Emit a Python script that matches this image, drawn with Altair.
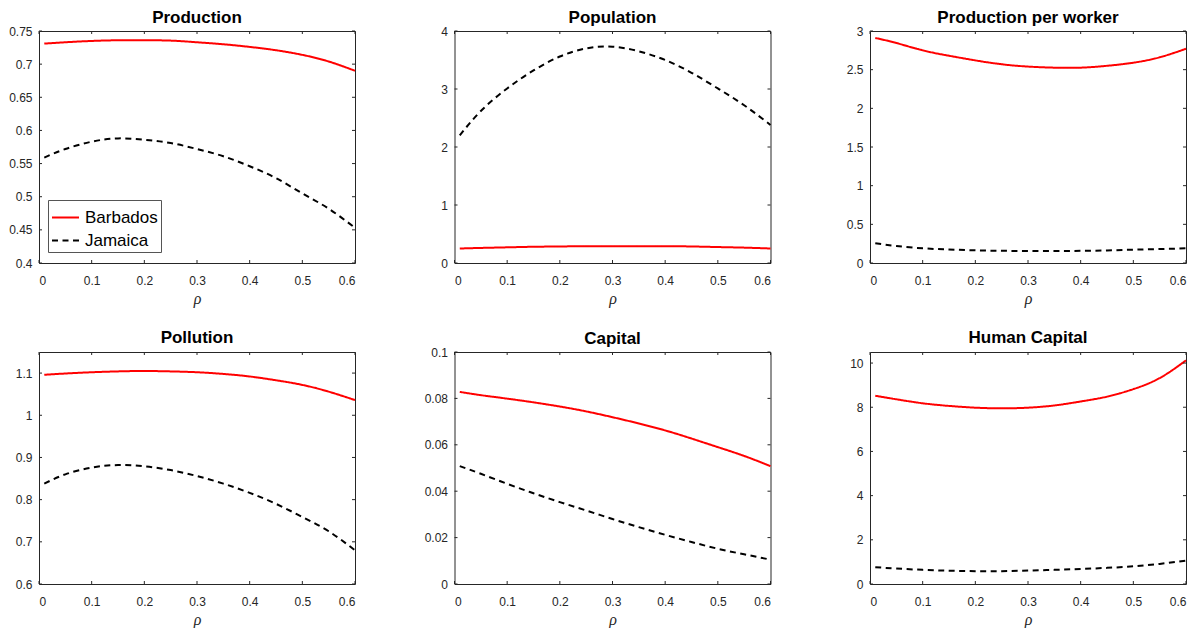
import altair as alt
import pandas as pd

# ---------------- data ----------------
rho = [0.01, 0.05, 0.10, 0.15, 0.20, 0.25, 0.30, 0.35, 0.40, 0.45, 0.50, 0.55, 0.60]
countries = ["Barbados", "Jamaica"]
x_ticks = [0, 0.1, 0.2, 0.3, 0.4, 0.5, 0.6]

production_barbados = [0.731, 0.733, 0.735, 0.736, 0.736, 0.7355, 0.733, 0.730, 0.726, 0.721, 0.714, 0.704, 0.690]
production_jamaica = [0.559, 0.572, 0.583, 0.588, 0.586, 0.581, 0.572, 0.561, 0.546, 0.528, 0.505, 0.482, 0.453]

population_barbados = [0.25, 0.26, 0.27, 0.28, 0.285, 0.29, 0.29, 0.29, 0.29, 0.285, 0.275, 0.265, 0.25]
population_jamaica = [2.20, 2.62, 3.01, 3.32, 3.56, 3.70, 3.73, 3.65, 3.50, 3.28, 3.01, 2.72, 2.38]

ppw_barbados = [2.91, 2.845, 2.75, 2.68, 2.62, 2.57, 2.54, 2.526, 2.526, 2.55, 2.59, 2.66, 2.77]
ppw_jamaica = [0.255, 0.22, 0.19, 0.175, 0.164, 0.158, 0.155, 0.155, 0.157, 0.163, 0.172, 0.18, 0.19]

pollution_barbados = [1.096, 1.099, 1.102, 1.104, 1.105, 1.104, 1.102, 1.098, 1.092, 1.083, 1.072, 1.056, 1.036]
pollution_jamaica = [0.838, 0.860, 0.876, 0.882, 0.879, 0.870, 0.856, 0.838, 0.816, 0.790, 0.759, 0.725, 0.680]

capital_barbados = [0.0828, 0.0814, 0.0799, 0.0783, 0.0765, 0.0744, 0.0719, 0.0692, 0.0662, 0.0627, 0.0590, 0.0552, 0.0508]
capital_jamaica = [0.0508, 0.0475, 0.0432, 0.0391, 0.0353, 0.0317, 0.0280, 0.0245, 0.0212, 0.0181, 0.0152, 0.0128, 0.0105]

hc_barbados = [8.52, 8.36, 8.18, 8.06, 7.98, 7.95, 7.98, 8.08, 8.26, 8.48, 8.82, 9.32, 10.12]
hc_jamaica = [0.76, 0.70, 0.64, 0.60, 0.58, 0.58, 0.61, 0.64, 0.68, 0.73, 0.80, 0.91, 1.06]

panels = [
    ("Production", production_barbados, production_jamaica, [0.4, 0.75],
     [0.4, 0.45, 0.5, 0.55, 0.6, 0.65, 0.7, 0.75]),
    ("Population", population_barbados, population_jamaica, [0, 4], [0, 1, 2, 3, 4]),
    ("Production per worker", ppw_barbados, ppw_jamaica, [0, 3], [0, 0.5, 1, 1.5, 2, 2.5, 3]),
    ("Pollution", pollution_barbados, pollution_jamaica, [0.6, 1.15], [0.6, 0.7, 0.8, 0.9, 1, 1.1]),
    ("Capital", capital_barbados, capital_jamaica, [0, 0.1], [0, 0.02, 0.04, 0.06, 0.08, 0.1]),
    ("Human Capital", hc_barbados, hc_jamaica, [0, 10.5], [0, 2, 4, 6, 8, 10]),
]

# ---------------- styling ----------------
FONT = "Liberation Sans"
AX = "#262626"
W, H = 316, 232
TICK = 3


def panel(title, b, j, domain, yticks, show_legend):
    df = pd.DataFrame({
        "rho": rho + rho,
        "value": b + j,
        "country": [countries[0]] * len(rho) + [countries[1]] * len(rho),
    })
    xs = alt.Scale(domain=[0, 0.6], nice=False, zero=False)
    ys = alt.Scale(domain=domain, nice=False, zero=False)
    xaxis = alt.Axis(values=x_ticks, format="~r", ticks=False, domain=False, grid=False,
                     labelFont=FONT, labelFontSize=12, labelColor=AX, labelPadding=12,
                     title="ρ", titleFont="Liberation Serif", titleFontStyle="italic",
                     titleFontWeight="normal", titleFontSize=16, titleColor=AX, titlePadding=4)
    yaxis = alt.Axis(values=yticks, format="~r", ticks=False, domain=False, grid=False,
                     labelFont=FONT, labelFontSize=12, labelColor=AX, labelPadding=7,
                     title=None)
    if show_legend:
        leg = alt.Legend(title=None, orient="none", legendX=9, legendY=169,
                         symbolType="stroke", symbolSize=729, symbolStrokeWidth=2,
                         labelFont=FONT, labelFontSize=17, labelColor="black", labelOffset=5,
                         fillColor="white", strokeColor="#555555", padding=3, rowPadding=-4)
        color = alt.Color("country:N", scale=alt.Scale(domain=countries, range=["#ff0000", "#000000"]), legend=leg)
        dash = alt.StrokeDash("country:N", scale=alt.Scale(domain=countries, range=[[1, 0], [6, 4.5]]), legend=leg)
    else:
        color = alt.Color("country:N", scale=alt.Scale(domain=countries, range=["#ff0000", "#000000"]), legend=None)
        dash = alt.StrokeDash("country:N", scale=alt.Scale(domain=countries, range=[[1, 0], [7, 5]]), legend=None)

    lines = alt.Chart(df).mark_line(strokeWidth=2, interpolate="natural").encode(
        x=alt.X("rho:Q", scale=xs, axis=xaxis),
        y=alt.Y("value:Q", scale=ys, axis=yaxis),
        color=color,
        strokeDash=dash,
    )
    xt = pd.DataFrame({"rho": x_ticks})
    yt = pd.DataFrame({"value": yticks})
    bot = alt.Chart(xt).mark_rule(color=AX, strokeWidth=1).encode(
        x=alt.X("rho:Q", scale=xs, axis=xaxis), y=alt.value(H), y2=alt.value(H - TICK))
    top = alt.Chart(xt).mark_rule(color=AX, strokeWidth=1).encode(
        x=alt.X("rho:Q", scale=xs, axis=xaxis), y=alt.value(0), y2=alt.value(TICK))
    left = alt.Chart(yt).mark_rule(color=AX, strokeWidth=1).encode(
        y=alt.Y("value:Q", scale=ys, axis=yaxis), x=alt.value(0), x2=alt.value(TICK))
    right = alt.Chart(yt).mark_rule(color=AX, strokeWidth=1).encode(
        y=alt.Y("value:Q", scale=ys, axis=yaxis), x=alt.value(W), x2=alt.value(W - TICK))

    # the title sits above the axis extent; a tick label on the top edge pushes it up
    toff = -2 if abs(yticks[-1] - domain[1]) < 1e-9 else 5
    return alt.layer(lines, bot, top, left, right).properties(
        width=W, height=H,
        title=alt.TitleParams(title, font=FONT, fontSize=17, fontWeight="bold", color="black",
                              anchor="middle", offset=toff),
    )


charts = [panel(t, b, j, d, yt, i == 0) for i, (t, b, j, d, yt) in enumerate(panels)]

chart = alt.concat(*charts, columns=3, spacing={"row": 89, "column": 99.5}, bounds="flush").resolve_scale(
    x="independent", y="independent"
).resolve_legend(
    color="independent", strokeDash="independent"
).properties(
    padding={"left": 0, "top": 0, "right": 0, "bottom": 0},
    background="white",
).configure_view(stroke=AX, strokeWidth=1)

chart.save("out.html", embed_options={"renderer": "svg", "actions": False})
